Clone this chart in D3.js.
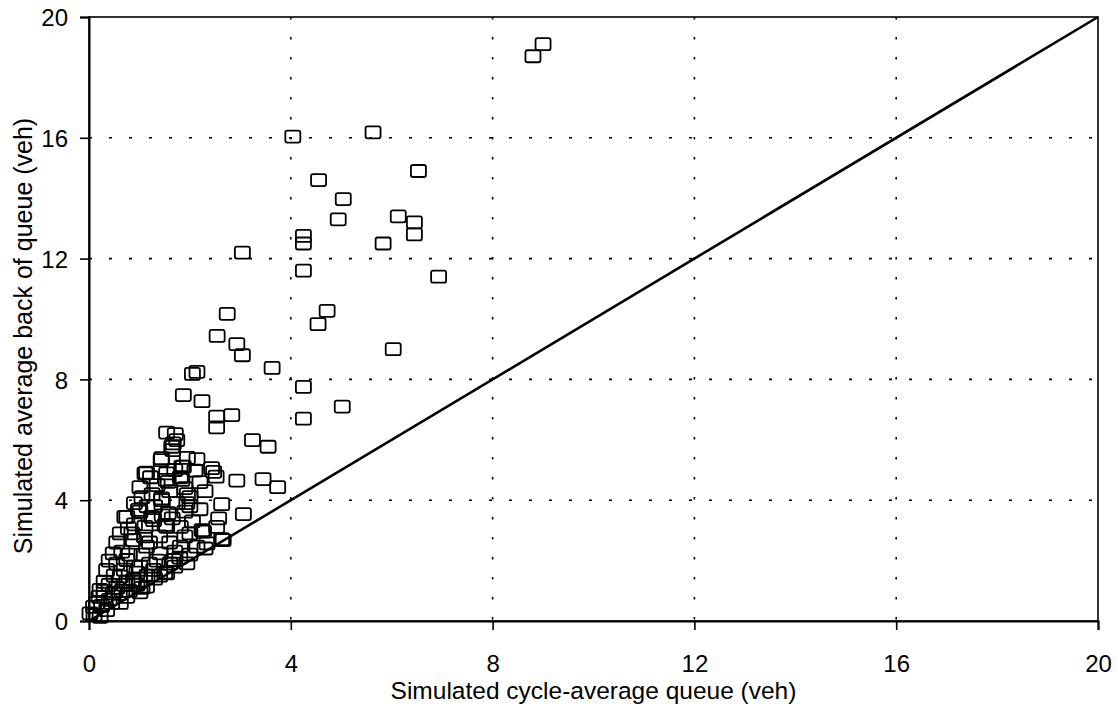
<!DOCTYPE html>
<html>
<head>
<meta charset="utf-8">
<script src="https://cdn.jsdelivr.net/npm/d3@7"></script>
<style>
  html, body { margin: 0; padding: 0; background: #fff; }
  svg { display: block; font-family: "Liberation Sans", Arial, sans-serif; }
</style>
</head>
<body>
<svg id="chart" width="1118" height="709"></svg>
<script>
// ---- data ----
const xTicks = [0, 4, 8, 12, 16, 20];
const yTicks = [0, 4, 8, 12, 16, 20];
const xTitle = "Simulated cycle-average queue (veh)";
const yTitle = "Simulated average back of queue (veh)";
const equalityLine = [[0, 0], [20, 20]];

// Simulated cycle-average queue (x) and simulated average back of queue (y)
const cycleAvgQueue = [
  8.8, 9.0,
  4.04, 5.63, 6.53, 4.55, 5.04, 4.94, 6.13, 6.45, 6.45, 4.25, 4.25, 5.83, 3.04, 4.25, 6.93,
  2.74, 4.72, 4.54, 2.54, 2.93, 3.04, 6.03, 3.63, 2.05, 2.14, 4.25, 5.02, 4.25, 1.87, 2.24, 2.53, 2.83, 2.53,
  3.24, 3.55,
  1.54, 1.71, 1.74, 1.64, 1.67, 1.43, 2.14, 1.84, 2.43, 2.47, 2.52, 2.93, 3.45, 3.74, 1.14, 1.22, 1.01, 1.53, 1.81,
  2.10, 2.30, 1.44, 1.94, 2.63, 3.06, 2.57, 2.27, 2.66, 2.34, 1.81, 1.54, 0.75, 1.01, 1.28, 1.54, 1.81, 2.00,
  0.62, 0.88, 1.14, 1.41, 1.67, 1.94, 0.48, 0.75, 1.01, 1.28, 0.35, 0.62, 0.88, 1.14, 0.22, 0.48, 0.75, 1.01,
  0.09, 0.35, 0.02, 0.22, 0.62,
  1.11, 1.54, 1.57, 1.84, 1.44, 1.90, 0.98, 0.71, 1.24, 1.57, 0.78, 1.11, 1.51, 2.00, 2.00, 2.24, 2.53, 2.14,
  2.63, 1.66, 1.44, 1.87,
  0.15, 0.30, 0.40, 0.50, 0.55, 0.65, 0.70, 0.80, 0.85, 0.90, 0.95, 1.05, 1.10, 1.15, 1.20, 1.30, 1.35, 1.40,
  1.45, 1.60, 1.65, 1.70, 1.75, 1.90, 1.95, 2.05, 2.20, 0.30, 0.45, 0.55, 0.70, 0.80, 0.90, 1.00, 1.20, 1.30,
  0.10, 0.25, 0.40, 0.60, 1.70, 1.50, 1.40, 2.30, 1.25, 1.35, 1.60, 1.70, 1.90, 2.20, 1.05, 0.90, 1.15, 0.55,
  0.40, 0.30, 0.20, 0.65, 0.75, 1.05, 0.95, 1.60, 1.80, 2.00, 1.95
];
const backOfQueue = [
  18.7, 19.1,
  16.04, 16.18, 14.9, 14.6, 13.97, 13.3, 13.4, 13.2, 12.8, 12.75, 12.5, 12.5, 12.2, 11.6, 11.4,
  10.17, 10.27, 9.83, 9.44, 9.17, 8.8, 9.0, 8.38, 8.18, 8.25, 7.75, 7.1, 6.7, 7.48, 7.28, 6.77, 6.82, 6.41,
  5.99, 5.77,
  6.24, 6.19, 5.99, 5.77, 5.88, 5.33, 5.36, 5.11, 5.06, 4.94, 4.78, 4.65, 4.70, 4.43, 4.91, 4.76, 4.43, 4.67, 4.76,
  4.98, 4.30, 4.00, 3.90, 3.87, 3.54, 3.40, 2.96, 2.68, 2.57, 2.46, 1.58, 3.45, 3.62, 3.34, 3.12, 3.12, 2.90,
  2.90, 2.68, 2.46, 2.24, 2.02, 1.91, 2.24, 2.02, 1.80, 1.69, 1.69, 1.47, 1.36, 1.14, 1.03, 0.92, 0.80, 0.95,
  0.47, 0.36, 0.25, 0.14, 0.60,
  4.89, 4.89, 4.61, 4.67, 4.06, 3.62, 3.68, 3.45, 3.45, 3.57, 3.07, 3.12, 3.18, 3.80, 4.10, 3.01, 3.12, 2.46,
  2.71, 5.66, 5.39, 5.11,
  0.60, 0.80, 1.20, 1.50, 1.90, 2.30, 1.70, 2.20, 2.90, 3.20, 1.60, 2.20, 2.80, 1.50, 2.60, 3.80, 2.00, 2.80,
  3.50, 2.60, 3.40, 2.30, 3.90, 2.80, 4.20, 3.30, 3.70, 1.30, 0.60, 1.10, 1.20, 1.00, 1.80, 1.30, 1.90, 1.40,
  0.20, 0.50, 0.70, 0.90, 1.80, 1.60, 1.50, 2.40, 4.20, 4.50, 4.30, 5.00, 4.40, 4.60, 4.10, 3.90, 3.80, 2.60,
  2.00, 1.00, 0.80, 1.00, 1.30, 1.10, 1.20, 1.90, 2.10, 2.20, 5.40
];

// ---- layout ----
const W = 1118, H = 709;
const margin = { top: 17, right: 20, bottom: 88, left: 89 };
const iw = W - margin.left - margin.right;
const ih = H - margin.top - margin.bottom;

const svg = d3.select("#chart");
const g = svg.append("g").attr("transform", `translate(${margin.left},${margin.top})`);

const x = d3.scaleLinear().domain([0, 20]).range([0, iw]);
const y = d3.scaleLinear().domain([0, 20]).range([ih, 0]);

// gridlines
g.append("g").selectAll("line.vg").data(xTicks.filter(d => d > 0 && d < 20)).join("line")
  .attr("x1", d => x(d)).attr("x2", d => x(d)).attr("y1", 0).attr("y2", ih)
  .attr("stroke", "#000").attr("stroke-width", 1.6).attr("stroke-dasharray", "2.5,17.5");
g.append("g").selectAll("line.hg").data(yTicks.filter(d => d > 0 && d < 20)).join("line")
  .attr("x1", 0).attr("x2", iw).attr("y1", d => y(d)).attr("y2", d => y(d))
  .attr("stroke", "#000").attr("stroke-width", 1.6).attr("stroke-dasharray", "3,17");

// frame
g.append("rect").attr("x", 0).attr("y", 0).attr("width", iw).attr("height", ih)
  .attr("fill", "none").attr("stroke", "#000").attr("stroke-width", 1.6);

// axes
const xAxis = d3.axisBottom(x).tickValues(xTicks).tickSize(9).tickPadding(25).tickFormat(d3.format("d"));
const yAxis = d3.axisLeft(y).tickValues(yTicks).tickSize(9).tickPadding(12).tickFormat(d3.format("d"));

const gx = g.append("g").attr("transform", `translate(0,${ih})`).call(xAxis);
const gy = g.append("g").call(yAxis);
[gx, gy].forEach(a => {
  a.select(".domain").attr("stroke", "#000").attr("stroke-width", 2);
  a.selectAll(".tick line").attr("stroke", "#000").attr("stroke-width", 1.6);
  a.selectAll(".tick text").attr("fill", "#000").style("font-size", "24px")
    .style("font-family", '"Liberation Sans", Arial, sans-serif');
});
gy.selectAll(".tick text").attr("dy", "0.36em");

// equality line
const line = d3.line().x(d => x(d[0])).y(d => y(d[1]));
g.append("path").datum(equalityLine).attr("d", line)
  .attr("fill", "none").attr("stroke", "#000").attr("stroke-width", 2.6);

// markers
const pts = cycleAvgQueue.map((v, i) => [v, backOfQueue[i]]);
const mw = 15, mh = 12;
g.append("g").selectAll("rect").data(pts).join("rect")
  .attr("x", d => x(d[0]) - mw / 2).attr("y", d => y(d[1]) - mh / 2)
  .attr("width", mw).attr("height", mh).attr("rx", 2).attr("ry", 2)
  .attr("fill", "none").attr("stroke", "#000").attr("stroke-width", 1.8);

// titles
svg.append("text").attr("x", margin.left + iw / 2).attr("y", 699)
  .attr("text-anchor", "middle").style("font-size", "24.5px").attr("fill", "#000").text(xTitle);
svg.append("text").attr("transform", `translate(32,336) rotate(-90)`)
  .attr("text-anchor", "middle").style("font-size", "25px").attr("fill", "#000").text(yTitle);
</script>
</body>
</html>
